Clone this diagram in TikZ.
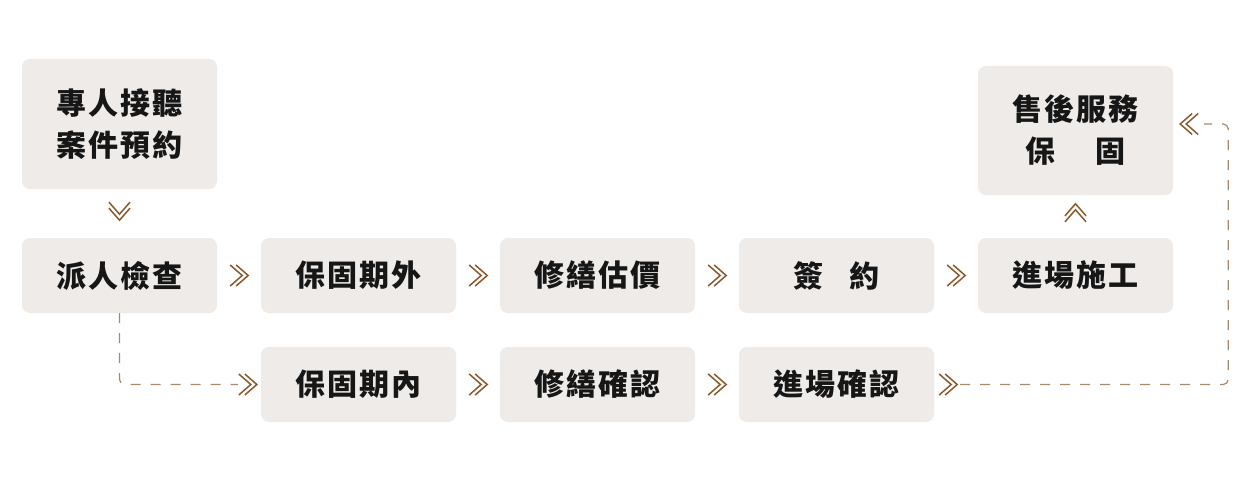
\documentclass[tikz,border=0pt]{standalone}
\usepackage{fontspec}
\usetikzlibrary{calc}
\newfontfamily\cjk{Noto Sans CJK TC}[LetterSpace=6]
\definecolor{boxc}{HTML}{EEEBE8}
\definecolor{chevc}{HTML}{8A5A2C}
\definecolor{dashc}{HTML}{A98A6A}
\definecolor{txtc}{HTML}{161616}
\tikzset{
  box/.style={fill=boxc, rounded corners=8pt, minimum width=195pt, minimum height=75pt,
    inner sep=0pt, align=center, text=txtc,
    font=\cjk\bfseries\fontsize{30}{42}\selectfont},
  chevline/.style={draw=chevc, line width=1.5pt, line join=miter},
  dchev/.pic={
    \draw[chevline] (-12,-10.5) -- (0,0) -- (-12,10.5);
    \draw[chevline] (-18,-10.5) -- (-6,0) -- (-18,10.5);
  },
  dashline/.style={draw=dashc, line width=1.2pt, dash pattern=on 10pt off 10pt, rounded corners=5pt}
}
\begin{document}
\begin{tikzpicture}[x=1pt,y=-1pt]
\useasboundingbox (0,0) rectangle (1248,492);
\fill[white] (0,0) rectangle (1248,492);

\node[box, minimum height=130pt] (n1) at (119.5,124) {專人接聽\\案件預約};
\node[box] (n2) at (119.5,275.5) {派人檢查};
\node[box] (n3) at (358.5,275.5) {保固期外};
\node[box] (n4) at (597.5,275.5) {修繕估價};
\node[box] (n5) at (836.5,275.5) {簽\hspace{26pt}約};
\node[box] (n6) at (1075.5,275.5) {進場施工};
\node[box, minimum height=129pt] (n7) at (1075.5,130.5) {售後服務\\保\hspace{40pt}固};
\node[box] (n8) at (358.5,384.5) {保固期內};
\node[box] (n9) at (597.5,384.5) {修繕確認};
\node[box] (n10) at (836.5,384.5) {進場確認};

% chevrons
\pic[rotate=-90] at ($(n1.south)+(0,31)$) {dchev};
\pic at ($(n2.east)+(31,0)$) {dchev};
\pic at ($(n3.east)+(31,0)$) {dchev};
\pic at ($(n4.east)+(31,0)$) {dchev};
\pic at ($(n5.east)+(31,0)$) {dchev};
\pic[rotate=90] at ($(n6.north)+(0,-34)$) {dchev};
\pic at ($(n8.east)+(31,0)$) {dchev};
\pic at ($(n9.east)+(31,0)$) {dchev};
\pic at ($(n8.west)+(-4,0)$) {dchev};
\pic at ($(n10.east)+(23,0)$) {dchev};
\coordinate (lt) at ($(n7.east)+(7,-6.5)$);
\pic[rotate=180] at (lt) {dchev};

% dashed connectors
\coordinate (l1) at ($(n8.west)+(-23,0)$);
\draw[dashline] (n2.south) |- (l1);
\coordinate (r0) at ($(n10.east)+(26,0)$);
\coordinate (r2) at ($(lt)+(24,0)$);
\draw[dashline] (r0) -| ($(lt)+(48,0)$) -- (r2);
\end{tikzpicture}
\end{document}
